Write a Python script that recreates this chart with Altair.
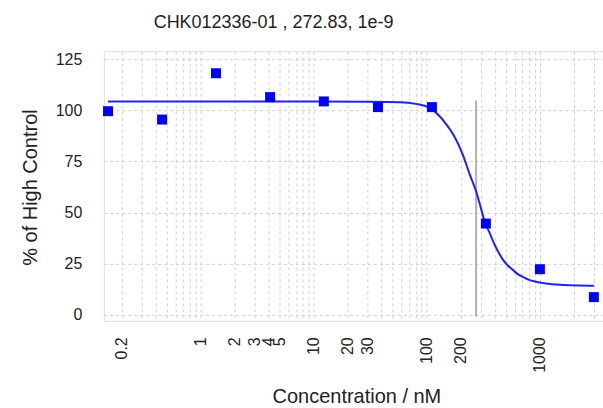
import altair as alt
import pandas as pd

# measured points (concentration nM, % of high control)
conc = [0.152, 0.457, 1.37, 4.12, 12.3, 37.0, 111, 333, 1000, 3000]
pct = [99.7, 95.6, 118.3, 106.6, 104.5, 101.7, 101.7, 44.6, 22.2, 8.5]

# fitted curve
curve_conc = [0.152, 1, 10, 30, 57, 80, 105, 130, 147.5, 175, 206.7, 240, 271,
              300, 323, 360, 407, 440, 480, 520, 570, 620, 680, 740, 801, 900,
              1125, 1600, 2200, 3000]
curve_pct = [104.4, 104.4, 104.4, 104.3, 104.1, 103.3, 101.4, 97.2, 93.5, 87.4, 78.8, 68.6, 60.9,
             52.4, 46.0, 39.9, 33.1, 29.6, 26.3, 24.0, 22.1, 20.3, 18.9, 17.8, 17.0, 16.2,
             15.2, 14.5, 14.2, 14.1]

ic50 = [272.83]
ic50_lo = [-1]
ic50_hi = [105]

grid_x = [0.2, 0.3, 0.4, 0.5, 0.6, 0.7, 0.8, 0.9,
          1, 2, 3, 4, 5, 6, 7, 8, 9,
          10, 20, 30, 40, 50, 60, 70, 80, 90,
          100, 200, 300, 400, 500, 600, 700, 800, 900,
          1000, 2000, 3000]
label_x = [0.2, 1, 2, 3, 4, 5, 10, 20, 30, 100, 200, 1000]
y_ticks = [0, 25, 50, 75, 100, 125]

FONT = "Liberation Sans"

pts = pd.DataFrame({"conc": conc, "pct": pct})
crv = pd.DataFrame({"conc": curve_conc, "pct": curve_pct})
rule_df = pd.DataFrame({"conc": ic50, "lo": ic50_lo, "hi": ic50_hi})

label_list = "[" + ",".join(str(v) for v in label_x) + "]"

xscale = alt.Scale(type="log", domain=[0.1396, 3613], nice=False)
yscale = alt.Scale(domain=[-3.1, 129.1], nice=False, zero=False)

xaxis = alt.Axis(
    values=grid_x, grid=True, gridDash=[3, 3], gridColor="#cfcfcf", gridWidth=1,
    ticks=False, tickSize=0, domain=False,
    labelAngle=270, labelAlign="right", labelBaseline="middle",
    labelPadding=16, labelFontSize=16, labelFont=FONT, labelColor="#222",
    labelOverlap=False, labelFlush=False, labelBound=False, format="~g",
    labelExpr="indexof(" + label_list + ", datum.value) >= 0 ? datum.label : ''",
    title="Concentration / nM", titleFont=FONT, titleFontSize=20, titleFontWeight="normal",
    titleColor="#222", titleX=253, titleY=82, titleBaseline="alphabetic", titleAnchor="start",
    titleAlign="center",
)
yaxis = alt.Axis(
    values=y_ticks, grid=True, gridDash=[3, 3], gridColor="#cfcfcf", gridWidth=1,
    ticks=False, tickSize=0, domain=False,
    labelPadding=22, labelFontSize=16, labelFont=FONT, labelColor="#222",
    labelAlign="right", labelBaseline="middle", labelFlush=False, labelOverlap=False,
    title="% of High Control", titleFont=FONT, titleFontSize=20, titleFontWeight="normal",
    titleColor="#222", titleAngle=270, titleX=-67.5, titleY=136, titleBaseline="alphabetic",
    titleAlign="center", titleAnchor="start",
)

rule = alt.Chart(rule_df).mark_rule(color="#b0b0b0", strokeWidth=2).encode(
    x=alt.X("conc:Q", scale=xscale, axis=xaxis),
    y=alt.Y("lo:Q", scale=yscale, axis=yaxis),
    y2="hi:Q",
)

line = alt.Chart(crv).mark_line(color="#2020ff", strokeWidth=2, interpolate="monotone").encode(
    x=alt.X("conc:Q", scale=xscale),
    y=alt.Y("pct:Q", scale=yscale),
)

points = alt.Chart(pts).mark_point(shape="square", filled=True, size=100, color="#0000ff", opacity=1).encode(
    x=alt.X("conc:Q", scale=xscale),
    y=alt.Y("pct:Q", scale=yscale),
)

chart = alt.layer(rule, line, points).properties(
    width=500, height=270,
    autosize=alt.AutoSizeParams(type="none"),
    padding={"left": 104, "top": 51, "right": 0, "bottom": 87},
    title=alt.TitleParams(
        text="CHK012336-01 , 272.83, 1e-9", font=FONT, fontSize=18, fontWeight="normal",
        color="#222", anchor="middle", dx=-80, offset=5, baseline="alphabetic",
    ),
).configure_view(stroke="#999999", strokeWidth=2).configure(background="white")

chart.save("out.html", embed_options={"renderer": "svg", "actions": False})
